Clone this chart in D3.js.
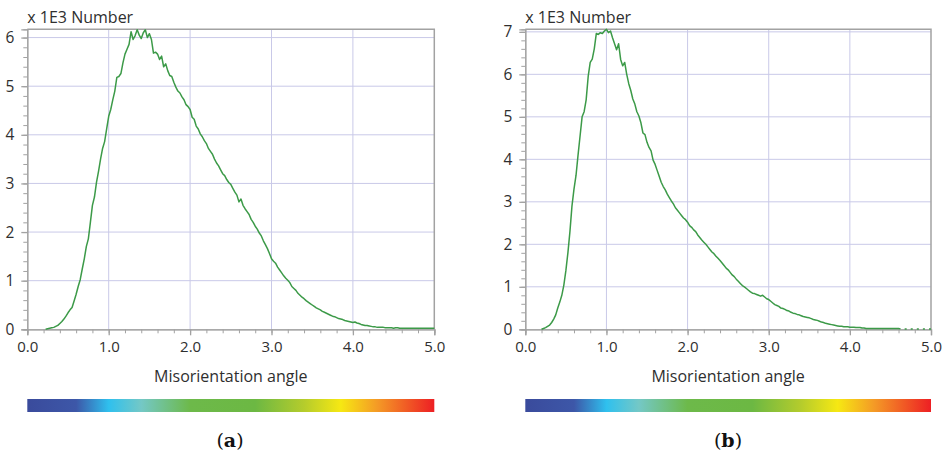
<!DOCTYPE html>
<html>
<head>
<meta charset="utf-8">
<script src="https://cdn.jsdelivr.net/npm/d3@7"></script>
<style>
  body { margin: 0; background: #fff; }
  svg { display: block; }
</style>
</head>
<body>
<svg id="fig" width="949" height="456"></svg>
<script>
// Misorientation angle distributions (counts in thousands), binned every 0.025 degree
const binWidth = 0.025;

const startA = 0.225;
const countsA = [
  0.00,0.01,0.02,0.03,0.04,0.06,0.08,0.12,
  0.16,0.21,0.27,0.34,0.40,0.45,0.58,0.72,
  0.88,1.02,1.24,1.45,1.70,1.86,2.20,2.55,
  2.72,3.02,3.25,3.50,3.72,3.86,4.12,4.38,
  4.52,4.72,4.90,5.18,5.20,5.26,5.48,5.66,
  5.76,5.86,6.12,5.96,6.04,6.16,6.05,5.98,
  6.10,6.16,6.00,6.08,5.96,5.68,5.70,5.66,
  5.55,5.62,5.40,5.46,5.32,5.22,5.20,5.08,
  4.98,4.90,4.86,4.78,4.72,4.62,4.58,4.52,
  4.36,4.32,4.18,4.12,4.02,3.96,3.88,3.82,
  3.72,3.66,3.60,3.50,3.42,3.36,3.28,3.20,
  3.16,3.08,3.02,2.98,2.90,2.82,2.76,2.62,
  2.68,2.55,2.48,2.42,2.36,2.26,2.20,2.12,
  2.06,1.98,1.92,1.82,1.74,1.66,1.56,1.45,
  1.40,1.36,1.28,1.22,1.16,1.10,1.05,1.01,
  0.96,0.88,0.84,0.80,0.74,0.70,0.66,0.63,
  0.59,0.56,0.53,0.50,0.47,0.44,0.42,0.40,
  0.37,0.35,0.33,0.31,0.29,0.27,0.26,0.24,
  0.22,0.21,0.20,0.18,0.17,0.16,0.15,0.14,
  0.15,0.13,0.12,0.10,0.09,0.08,0.08,0.07,
  0.06,0.05,0.05,0.04,0.04,0.04,0.04,0.03,
  0.03,0.03,0.03,0.02,0.03,0.03,0.02,0.02,
  0.02,0.02,0.02,0.02,0.02,0.02,0.02,0.02,
  0.02,0.02,0.02,0.02,0.02,0.02,0.02,0.02
];

const startB = 0.200;
const countsB = [
  0.00,0.02,0.04,0.07,0.10,0.16,0.24,0.34,
  0.50,0.64,0.80,1.04,1.38,1.80,2.30,2.90,
  3.30,3.62,4.10,4.55,5.00,5.12,5.40,5.95,
  6.28,6.36,6.60,6.96,6.94,6.98,6.96,7.02,
  7.06,6.98,7.02,6.86,6.72,6.58,6.72,6.35,
  6.20,6.28,6.00,5.78,5.62,5.42,5.30,5.12,
  5.02,4.86,4.62,4.58,4.40,4.28,4.20,3.98,
  3.88,3.74,3.60,3.46,3.36,3.28,3.18,3.10,
  3.02,2.95,2.86,2.80,2.74,2.68,2.62,2.58,
  2.52,2.44,2.40,2.34,2.30,2.22,2.16,2.10,
  2.05,2.00,1.94,1.88,1.82,1.78,1.72,1.67,
  1.62,1.56,1.50,1.44,1.40,1.34,1.28,1.24,
  1.18,1.13,1.08,1.03,1.00,0.96,0.92,0.88,
  0.85,0.84,0.82,0.80,0.78,0.80,0.76,0.72,
  0.70,0.66,0.62,0.58,0.56,0.54,0.50,0.49,
  0.47,0.44,0.43,0.40,0.38,0.37,0.35,0.34,
  0.32,0.30,0.29,0.28,0.27,0.25,0.23,0.22,
  0.21,0.19,0.17,0.16,0.14,0.13,0.12,0.11,
  0.10,0.09,0.08,0.07,0.07,0.06,0.06,0.06,
  0.05,0.05,0.05,0.04,0.04,0.04,0.03,0.03,
  0.02,0.02,0.02,0.02,0.02,0.02,0.02,0.02,
  0.02,0.02,0.02,0.02,0.02,0.02,0.02,0.02,
  0.02,0.01,null,0.01,0.01,null,0.01,0.01,
  null,0.01,0.01,null,0.01,0.01,null,0.01,
  0.01
];

const xTickValues = [0, 1, 2, 3, 4, 5];
const xTickLabels = ["0.0", "1.0", "2.0", "3.0", "4.0", "5.0"];
const yTicksA = [0, 1, 2, 3, 4, 5, 6];
const yTicksB = [0, 1, 2, 3, 4, 5, 6, 7];
const yUnitLabel = "x 1E3 Number";
const xTitle = "Misorientation angle";

// Colour key under each panel
const keyStops = [
  [0.00, "#3a4b9c"], [0.12, "#3d57a8"], [0.20, "#2fc0ee"], [0.28, "#74c8c6"],
  [0.40, "#6db94a"], [0.56, "#6cb843"], [0.68, "#b5cc2c"], [0.77, "#f6e813"],
  [0.86, "#f49a26"], [1.00, "#ed1f24"]
];

const panels = [
  { counts: countsA, start: startA, yMax: 6.17, yTicks: yTicksA, tag: "a",
    left: 27.3, right: 434.3, capX: 230 },
  { counts: countsB, start: startB, yMax: 7.06, yTicks: yTicksB, tag: "b",
    left: 525.3, right: 931, capX: 728 }
];

const plotTop = 29.3, plotBottom = 329.3;
const svg = d3.select("#fig");
const font = "'Open Sans', 'Noto Sans', sans-serif";
const textCol = "#2f2f2f";
const gridCol = "#c9c9e8";
const frameCol = "#a2a2a2";
const lineCol = "#3c9a48";

const defs = svg.append("defs");
const grad = defs.append("linearGradient").attr("id", "key").attr("x1", "0%").attr("x2", "100%");
keyStops.forEach(([o, c]) => grad.append("stop").attr("offset", o).attr("stop-color", c));

panels.forEach(p => {
  const x = d3.scaleLinear().domain([0, 5]).range([p.left, p.right]);
  const y = d3.scaleLinear().domain([0, p.yMax]).range([plotBottom, plotTop]);
  const g = svg.append("g");

  // grid
  g.append("g").selectAll("line").data(xTickValues.slice(1, -1)).join("line")
    .attr("x1", d => x(d)).attr("x2", d => x(d)).attr("y1", plotTop).attr("y2", plotBottom)
    .attr("stroke", gridCol).attr("stroke-width", 1);
  g.append("g").selectAll("line").data(p.yTicks.slice(1)).join("line")
    .attr("x1", p.left).attr("x2", p.right).attr("y1", d => y(d)).attr("y2", d => y(d))
    .attr("stroke", gridCol).attr("stroke-width", 1);

  // minor ticks
  const minorX = d3.range(0, 5.0001, 0.2);
  const minorY = d3.range(0, p.yMax, 0.2);
  g.append("g").attr("transform", `translate(0,${plotBottom})`)
    .call(d3.axisBottom(x).tickValues(minorX).tickSize(4).tickFormat(""))
    .call(a => a.selectAll("line,path").attr("stroke", frameCol));
  g.append("g").attr("transform", `translate(${p.left},0)`)
    .call(d3.axisLeft(y).tickValues(minorY).tickSize(4).tickFormat(""))
    .call(a => a.selectAll("line,path").attr("stroke", frameCol));

  // major axes
  const ax = g.append("g").attr("transform", `translate(0,${plotBottom})`)
    .call(d3.axisBottom(x).tickValues(xTickValues).tickSize(6).tickPadding(6)
      .tickFormat((d, i) => xTickLabels[i]));
  ax.selectAll("line,path").attr("stroke", frameCol).attr("stroke-width", 1.3);
  ax.selectAll("text").attr("font-family", font).attr("font-size", 15).attr("fill", textCol);

  const ay = g.append("g").attr("transform", `translate(${p.left},0)`)
    .call(d3.axisLeft(y).tickValues(p.yTicks).tickSize(6).tickPadding(7)
      .tickFormat(d3.format("d")));
  ay.selectAll("line,path").attr("stroke", frameCol).attr("stroke-width", 1.3);
  ay.selectAll("text").attr("font-family", font).attr("font-size", 15.5).attr("fill", textCol);

  // frame top & right
  g.append("path")
    .attr("d", `M${p.left},${plotTop}H${p.right}V${plotBottom}`)
    .attr("fill", "none").attr("stroke", frameCol).attr("stroke-width", 1.5);

  // curve
  const line = d3.line()
    .defined(d => d != null)
    .x((d, i) => x(p.start + i * binWidth))
    .y(d => y(d));
  g.append("path").datum(p.counts)
    .attr("d", line)
    .attr("fill", "none").attr("stroke", lineCol).attr("stroke-width", 1.5)
    .attr("stroke-linejoin", "round");

  // labels
  g.append("text").attr("x", p.left).attr("y", 22.5)
    .attr("font-family", font).attr("font-size", 16).attr("fill", textCol)
    .text(yUnitLabel);
  g.append("text").attr("x", (p.left + p.right) / 2).attr("y", 381.5)
    .attr("text-anchor", "middle")
    .attr("font-family", font).attr("font-size", 16).attr("fill", textCol)
    .text(xTitle);

  // colour key
  g.append("rect").attr("x", p.left).attr("y", 399)
    .attr("width", p.right - p.left).attr("height", 13)
    .attr("fill", "url(#key)");

  // caption
  const cap = g.append("text").attr("x", p.capX).attr("y", 447)
    .attr("text-anchor", "middle")
    .attr("font-family", "'DejaVu Serif', 'Liberation Serif', serif")
    .attr("font-size", 19).attr("fill", "#111");
  cap.append("tspan").text("(");
  cap.append("tspan").attr("font-weight", "bold").text(p.tag);
  cap.append("tspan").text(")");
});
</script>
</body>
</html>
